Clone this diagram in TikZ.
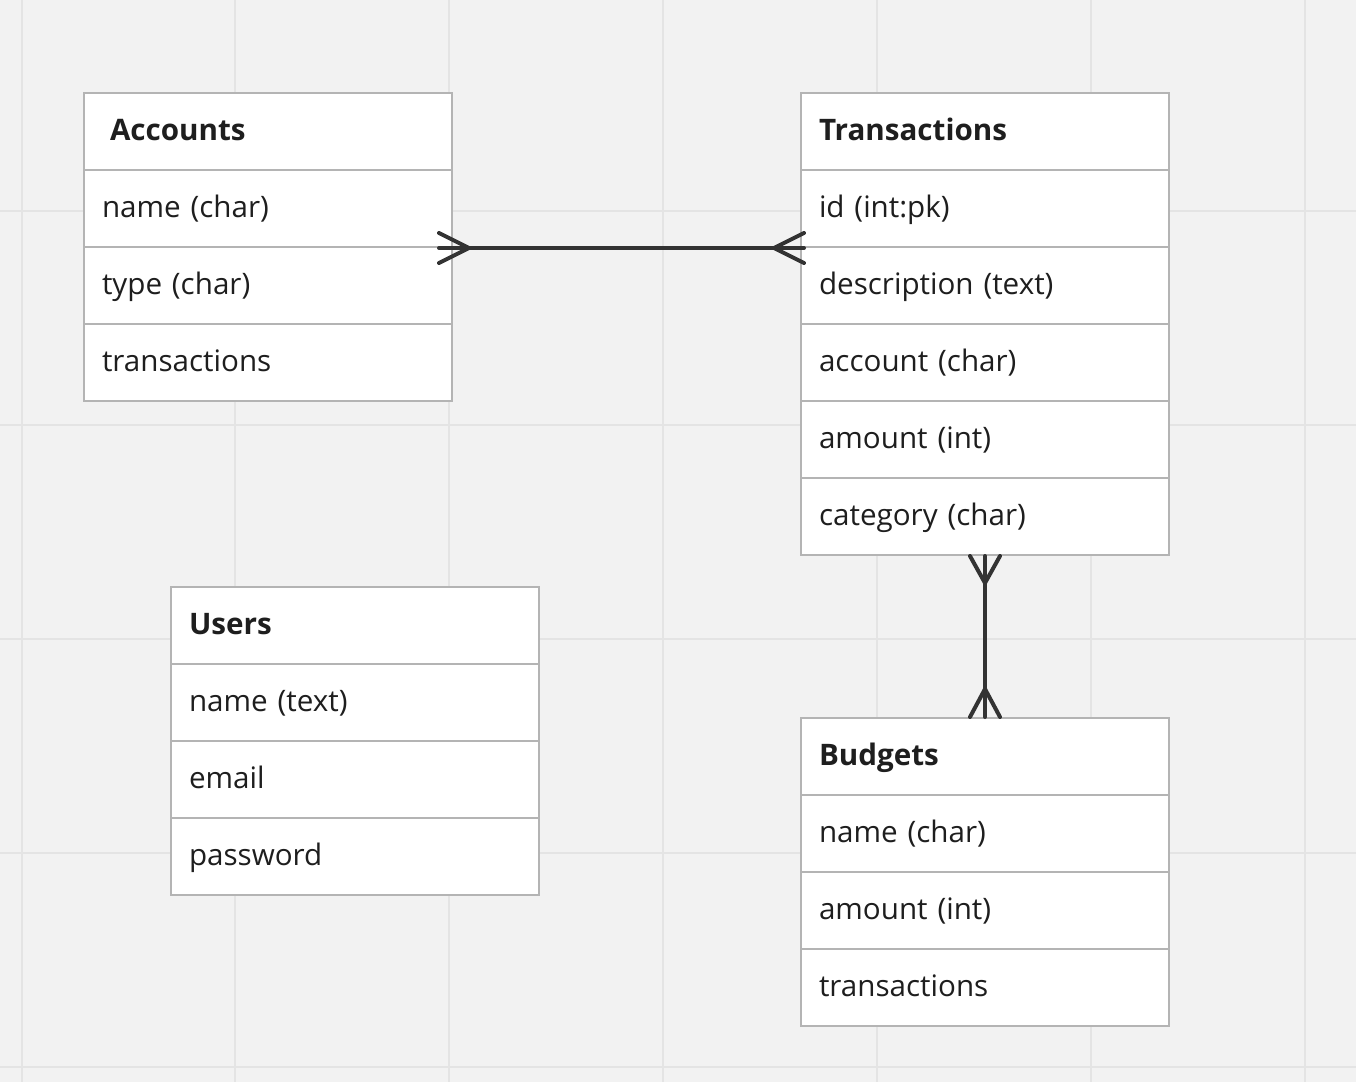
\documentclass[tikz,border=0pt]{standalone}
\usepackage{fontspec}
\setmainfont{Open Sans}
\definecolor{bg}{HTML}{F2F2F2}
\definecolor{gridc}{HTML}{E4E4E4}
\definecolor{boxc}{HTML}{B4B4B4}
\definecolor{relc}{HTML}{333333}
\definecolor{txt}{HTML}{1E1E1E}
\tikzset{
  cell/.style={draw=boxc, line width=1pt, fill=white, anchor=north west,
    minimum width=184pt, minimum height=38.5pt, text width=166pt,
    inner xsep=9pt, inner ysep=0pt, align=left, text height=11pt, text depth=2.5pt,
    font=\fontsize{14.8}{17}\selectfont, text=txt},
  head/.style={cell, font=\fontsize{14.8}{17}\selectfont\bfseries},
  rel/.style={draw=relc, line width=2pt, line cap=round, line join=round},
  gridl/.style={draw=gridc, line width=1pt}
}
\begin{document}
\begin{tikzpicture}[x=0.5pt,y=-0.5pt]
\fill[bg] (0,0) rectangle (1356,1082);
\useasboundingbox (0,0) rectangle (1356,1082);
\foreach \i in {0,...,6} \draw[gridl] ({21.5+213.9*\i},0) -- ({21.5+213.9*\i},1082);
\foreach \j in {0,...,5} \draw[gridl] (0,{-3+214*\j}) -- (1356,{-3+214*\j});
\begin{scope}[shift={(-1,-1)}]
% Accounts
\node[head] (acc0) at (84,93) {\hspace*{4pt}Accounts};
\node[cell] (acc1) at (84,170) {name (char)};
\node[cell] (acc2) at (84,247) {type (char)};
\node[cell] (acc3) at (84,324) {transactions};
% Transactions
\node[head] (tr0) at (801,93) {Transactions};
\node[cell] (tr1) at (801,170) {id (int:pk)};
\node[cell] (tr2) at (801,247) {description (text)};
\node[cell] (tr3) at (801,324) {account (char)};
\node[cell] (tr4) at (801,401) {amount (int)};
\node[cell] (tr5) at (801,478) {category (char)};
% Users
\node[head] (us0) at (171,587) {Users};
\node[cell] (us1) at (171,664) {name (text)};
\node[cell] (us2) at (171,741) {email};
\node[cell] (us3) at (171,818) {password};
% Budgets
\node[head] (bu0) at (801,718) {Budgets};
\node[cell] (bu1) at (801,795) {name (char)};
\node[cell] (bu2) at (801,872) {amount (int)};
\node[cell] (bu3) at (801,949) {transactions};
\end{scope}
% Accounts -- Transactions
\draw[rel] ([xshift=-7pt]acc1.south east) -- ([xshift=2pt]tr1.south west);
\draw[rel] ([xshift=-7pt,yshift=7.5pt]acc1.south east) -- ([xshift=8pt]acc1.south east) -- ([xshift=-7pt,yshift=-7.5pt]acc1.south east);
\draw[rel] ([xshift=2pt,yshift=7.5pt]tr1.south west) -- ([xshift=-13pt]tr1.south west) -- ([xshift=2pt,yshift=-7.5pt]tr1.south west);
% Transactions -- Budgets
\draw[rel] (tr5.south) -- (bu0.north);
\draw[rel] ([xshift=-7.5pt]tr5.south) -- ([yshift=-13.5pt]tr5.south) -- ([xshift=7.5pt]tr5.south);
\draw[rel] ([xshift=-7.5pt]bu0.north) -- ([yshift=14pt]bu0.north) -- ([xshift=7.5pt]bu0.north);
\end{tikzpicture}
\end{document}
